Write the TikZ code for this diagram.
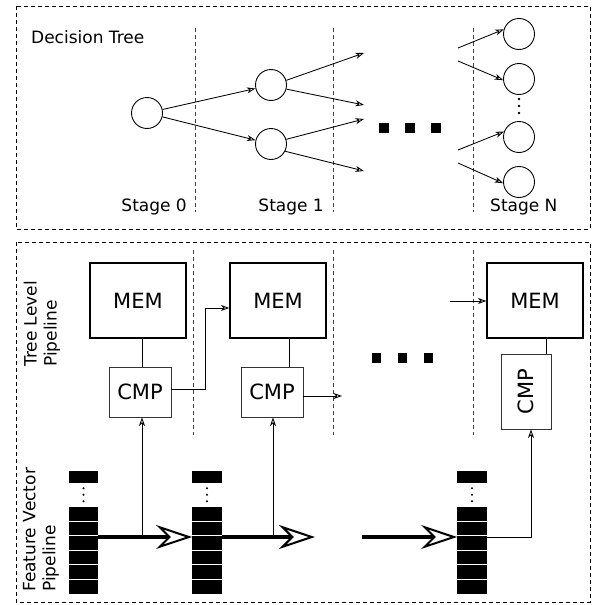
\documentclass[tikz,border=0pt]{standalone}
\usepackage{fontspec}
\setmainfont{DejaVu Sans}
\usetikzlibrary{arrows.meta,calc}

\begin{document}
\begin{tikzpicture}[x=1pt,y=-1pt,
  frame/.style={draw, line width=0.9pt, dash pattern=on 4pt off 3pt},
  sep/.style={draw=black!75, line width=0.8pt, dash pattern=on 4pt off 3pt},
  circ/.style={draw, circle, minimum size=31pt, inner sep=0pt, line width=0.9pt},
  arr/.style={line width=0.85pt, -{Stealth[open, length=8.5pt, width=6pt, inset=2.5pt]}},
  fat/.style={line width=4pt, -{Stealth[open, length=36pt, width=24pt, inset=12pt, line width=2pt]}},
  link/.style={line width=0.8pt},
  lbl/.style={font=\fontsize{17}{20}\selectfont, inner sep=0pt},
  mem/.style={draw, line width=1.2pt, minimum width=96pt, minimum height=75pt, inner sep=0pt, font=\fontsize{21}{24}\selectfont},
  cmp/.style={draw=black!80, line width=0.9pt, minimum width=62pt, minimum height=50pt, inner sep=0pt, font=\fontsize{21}{24}\selectfont},
  stk/.style={fill=black, inner sep=0pt, minimum width=29.5pt, minimum height=87pt},
  stktop/.style={fill=black, inner sep=0pt, minimum width=29.5pt, minimum height=12pt},
  bigdot/.style={fill=black, inner sep=0pt, minimum width=9.5pt, minimum height=10pt},
]
\useasboundingbox (0,0) rectangle (594,605);

% ---------------- Decision tree panel ----------------
\draw[frame] (16,6) rectangle (590,229);
\node[lbl, anchor=base west] (title) at (31,43) {Decision Tree};
\foreach \x in {195,333,473} \draw[sep] (\x,28) -- (\x,212);

\node[circ] (s0)  at (147,113) {};
\node[circ] (s1a) at (271,85) {};
\node[circ] (s1b) at (271,144) {};
\node[circ] (sn1) at (519,34) {};
\node[circ] (sn2) at (519,79) {};
\node[circ] (sn3) at (519,137) {};
\node[circ] (sn4) at (519,182) {};

\draw[arr] (s0) -- (s1a);
\draw[arr] (s0) -- (s1b);

\coordinate (o1) at (364,53);
\coordinate (o2) at (364,105);
\coordinate (o3) at (364,119);
\coordinate (o4) at (364,171);
\draw[arr] (s1a.17) -- (o1);
\draw[arr] (s1a.-15) -- (o2);
\draw[arr] (s1b.17) -- (o3);
\draw[arr] (s1b.-27) -- (o4);

\coordinate (i1) at (458,48);
\coordinate (i2) at (458,61);
\coordinate (i3) at (458,150);
\coordinate (i4) at (458,163);
\draw[arr] (i1) -- (sn1.163);
\draw[arr] (i2) -- (sn2.184);
\draw[arr] (i3) -- (sn3.160);
\draw[arr] (i4) -- (sn4.184);

\foreach \y in {99,106,113} \fill (519,\y) circle[radius=1.3pt];

\node[bigdot] (d1) at (384,128) {};
\node[bigdot] (d2) at (410,128) {};
\node[bigdot] (d3) at (436,128) {};

\node[lbl, anchor=base east] (st0) at (187,211) {Stage 0};
\node[lbl, anchor=base east] (st1) at (324,211) {Stage 1};
\node[lbl, anchor=base west] (stn) at (490,211) {Stage N};

% ---------------- Pipeline panel ----------------
\draw[frame] (16,242) rectangle (590,602);
\foreach \x in {193,333,473} \draw[sep] (\x,250) -- (\x,435);

\node[lbl, rotate=90, anchor=west, align=left] (tlp) at (42,367) {Tree Level\\Pipeline};
\node[lbl, rotate=90, anchor=west, align=left] (fvp) at (41,592) {Feature Vector\\Pipeline};

\node[mem] (mem1) at (138,300.5) {MEM};
\node[mem] (mem2) at (278,300.5) {MEM};
\node[mem] (mem3) at (535,300.5) {MEM};

\node[cmp] (cmp1) at (140,392) {CMP};
\node[cmp] (cmp2) at (272,392) {CMP};
\node[cmp, rotate=90, minimum width=75pt, minimum height=50pt] (cmp3) at (526,391.5) {CMP};

\draw[link] ([xshift=2pt]cmp1.north) -- ([xshift=2pt]cmp1.north |- mem1.south);
\draw[link] ([xshift=17pt]cmp2.north) -- ([xshift=17pt]cmp2.north |- mem2.south);
\draw[link] ([xshift=20pt]cmp3.east) -- ([xshift=20pt]cmp3.east |- mem3.south);

% compare outputs
\coordinate (k1) at (205,308);
\draw[arr] ([yshift=3pt]cmp1.east) -| (k1) -- (k1 -| mem2.west);
\coordinate (c2end) at (342,396);
\draw[arr] (cmp2.east |- c2end) -- (c2end);
\coordinate (m3in) at (450,301);
\draw[arr] (m3in) -- (m3in -| mem3.west);

\node[bigdot] (b1) at (376.5,357.5) {};
\node[bigdot] (b2) at (402.5,357.5) {};
\node[bigdot] (b3) at (428.5,357.5) {};

% feature vector stacks
\node[stk] (fv1) at (83.5,550.5) {};
\node[stk] (fv2) at (207,550.5) {};
\node[stk] (fv3) at (472,550.5) {};
\node[stktop] (fv1t) at (83.5,477) {};
\node[stktop] (fv2t) at (207,477) {};
\node[stktop] (fv3t) at (472,477) {};
\foreach \s in {fv1,fv2,fv3}{
  \foreach \k in {1,...,5}
    \draw[white, line width=1pt] ($(\s.north west)+(0,14.5*\k)$) -- ($(\s.north east)+(0,14.5*\k)$);
}
\foreach \s in {fv1t,fv2t,fv3t}{
  \foreach \dy in {5,11.5,18}
    \fill ($(\s.south)+(0,\dy)$) circle[radius=1.1pt];
}

% vector flow
\coordinate (t1) at (142,537);
\coordinate (t2) at (273,537);
\coordinate (t3) at (531,537);
\coordinate (f2) at (315,537);
\coordinate (f3) at (362,537);
\draw[fat] (fv1.east |- t1) -- (fv2.west |- t1);
\draw[fat] (fv2.east |- t1) -- (f2);
\draw[fat] (f3) -- (fv3.west |- t1);

\draw[arr] (t1) -- (t1 |- cmp1.south);
\draw[arr] (t2) -- (t2 |- cmp2.south);
\draw[arr] (fv3.east |- t3) -- (t3) -- (t3 |- cmp3.west);
\end{tikzpicture}
\end{document}
